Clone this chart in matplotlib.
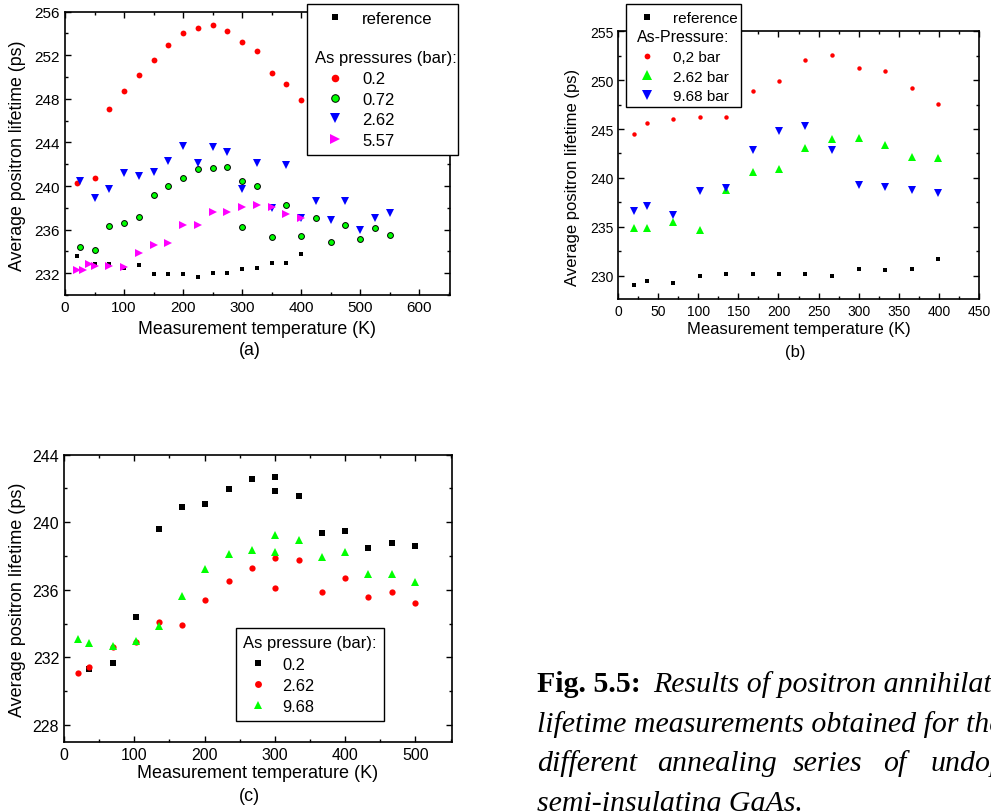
import matplotlib
matplotlib.use("Agg")
import matplotlib.pyplot as plt
from matplotlib.ticker import MultipleLocator, AutoMinorLocator
from matplotlib.lines import Line2D
from matplotlib.patches import Rectangle

plt.rcParams['font.family'] = ['Liberation Sans', 'DejaVu Sans']

W, H = 991, 812

# ---------------- Panel (a) data ----------------
a_ref_T = [20, 50, 75, 100, 125, 150, 175, 200, 225, 250, 275, 300, 325, 350, 375, 400]
a_ref_tau = [233.56, 232.8, 232.8, 232.52, 232.74, 231.94, 231.94, 231.94, 231.66,
             232.06, 232.06, 232.37, 232.49, 232.95, 232.95, 233.74]
a_p02_T = [20, 50, 75, 100, 125, 150, 175, 200, 225, 250, 275, 300, 325, 350, 375, 400]
a_p02_tau = [240.26, 240.74, 247.04, 248.75, 250.16, 251.57, 252.97, 254.04, 254.47,
             254.75, 254.26, 253.25, 252.36, 250.37, 249.37, 247.87]
a_p072_T = [25, 50, 75, 100, 125, 150, 175, 200, 225, 250, 275, 300, 300, 325, 350,
            375, 400, 425, 450, 475, 500, 525, 550]
a_p072_tau = [234.45, 234.17, 236.34, 236.65, 237.14, 239.15, 240.04, 240.74, 241.54,
              241.63, 241.75, 240.47, 236.25, 240.04, 235.33, 238.24, 235.43, 237.05,
              234.84, 236.46, 235.15, 236.13, 235.55]
a_p262_T = [25, 50, 75, 100, 125, 150, 175, 200, 225, 250, 275, 300, 325, 350, 375,
            400, 425, 450, 475, 500, 525, 550]
a_p262_tau = [240.44, 238.91, 239.71, 241.2, 240.93, 241.33, 242.3, 243.65, 242.15,
              243.62, 243.13, 239.74, 242.12, 238.02, 241.94, 237.11, 238.64, 236.92,
              238.64, 235.94, 237.11, 237.53]
a_p557_T = [20, 30, 40, 50, 75, 100, 125, 150, 175, 200, 225, 250, 275, 300, 325, 350,
            375, 400]
a_p557_tau = [232.25, 232.25, 232.86, 232.67, 232.67, 232.55, 233.87, 234.57, 234.78,
              236.46, 236.46, 237.66, 237.66, 238.05, 238.27, 238.05, 237.44, 237.08]

# ---------------- Panel (b) data ----------------
b_T = [20, 36, 69, 102, 135, 168, 201, 233, 267, 300, 333, 367, 399]
b_ref_tau = [229.01, 229.49, 229.22, 230.0, 230.2, 230.2, 230.2, 230.2, 230.0, 230.72,
             230.61, 230.72, 231.71]
b_p02_tau = [244.5, 245.59, 246.0, 246.2, 246.27, 248.9, 249.88, 252.1, 252.58, 251.21,
             250.98, 249.17, 247.56]
b_p262_tau = [234.91, 234.91, 235.53, 234.71, 238.77, 240.61, 240.88, 243.1, 244.02,
              244.09, 243.37, 242.18, 242.07]
b_p968_tau = [236.58, 237.09, 236.21, 238.66, 239.0, 242.89, 244.77, 245.35, 242.89,
              239.24, 239.07, 238.77, 238.49]

# ---------------- Panel (c) data ----------------
c_p02_T = [36, 69, 102, 135, 168, 201, 235, 268, 300, 300, 334, 367, 400, 433, 467, 500]
c_p02_tau = [231.3, 231.69, 234.38, 239.58, 240.88, 241.08, 241.99, 242.58, 242.68,
             241.87, 241.57, 239.38, 239.5, 238.49, 238.79, 238.59]
c_p262_T = [20, 36, 69, 102, 135, 168, 201, 235, 268, 300, 300, 334, 367, 400, 433, 467, 500]
c_p262_tau = [231.08, 231.4, 232.6, 232.9, 234.1, 233.89, 235.39, 236.49, 237.28,
              237.88, 236.08, 237.78, 235.88, 236.69, 235.59, 235.88, 235.19]
c_p968_T = [20, 36, 69, 102, 135, 168, 201, 235, 268, 300, 300, 334, 367, 400, 433, 467, 500]
c_p968_tau = [233.06, 232.84, 232.64, 232.96, 233.83, 235.64, 237.24, 238.13, 238.35,
              239.22, 238.23, 238.94, 237.94, 238.23, 236.93, 236.93, 236.43]

fig = plt.figure(figsize=(W / 100, H / 100), dpi=100)


def fx(px):
    return px / W


def fy(py):
    return 1 - py / H


def make_ax(l, r, t, b):
    ax = fig.add_axes([fx(l), fy(b), fx(r) - fx(l), fy(t) - fy(b)])
    for s in ax.spines.values():
        s.set_linewidth(1.2)
    ax.tick_params(which='both', direction='in', top=True, right=True, width=1.0)
    ax.tick_params(which='major', length=4)
    ax.tick_params(which='minor', length=2.5)
    ax.xaxis.set_minor_locator(AutoMinorLocator(2))
    ax.yaxis.set_minor_locator(AutoMinorLocator(2))
    return ax


RED, GREEN, BLUE, MAG = '#ff0000', '#00ff00', '#0000ff', '#ff00ff'

# ================= Panel (a) =================
axa = make_ax(65, 450, 12.7, 296)
h_ref, = axa.plot(a_ref_T, a_ref_tau, 's', color='black', ms=3.4, mew=0, label='reference')
h1, = axa.plot(a_p02_T, a_p02_tau, 'o', color=RED, ms=4.2, mew=0, label='0.2')
h2, = axa.plot(a_p072_T, a_p072_tau, 'o', mfc=GREEN, mec='black', ms=4.2, mew=0.7, label='0.72')
h3, = axa.plot(a_p262_T, a_p262_tau, 'v', color=BLUE, ms=6, mew=0, label='2.62')
h4, = axa.plot(a_p557_T, a_p557_tau, '>', color=MAG, ms=6, mew=0, label='5.57')
axa.set_xlim(0, 652)
axa.set_ylim(230, 256)
axa.xaxis.set_major_locator(MultipleLocator(100))
axa.yaxis.set_major_locator(MultipleLocator(4))
axa.tick_params(which='major', labelsize=11)

blank = Line2D([], [], linestyle='none')
fig.patches.append(Rectangle((fx(307), fy(156)), fx(458) - fx(307), fy(5) - fy(156),
                             transform=fig.transFigure, facecolor='white',
                             edgecolor='black', linewidth=1.0, zorder=2))
fig.legend(handles=[h_ref, blank, blank, h1, h2, h3, h4],
           labels=['reference', ' ', ' ', '0.2', '0.72', '2.62', '5.57'],
           loc='upper left', bbox_to_anchor=(fx(310), fy(11.5)), bbox_transform=fig.transFigure,
           frameon=False, fontsize=12, borderpad=0, borderaxespad=0,
           handlelength=3.0, handletextpad=0.12, labelspacing=0.32, markerscale=1.3)
fig.text(fx(315), fy(59), 'As pressures (bar):', fontsize=12, ha='left', va='center', zorder=6)

fig.text(fx(18), fy(156), 'Average positron lifetime (ps)', fontsize=12.8, rotation=90,
         ha='center', va='center')
fig.text(fx(257.5), fy(330), 'Measurement temperature (K)', fontsize=12.8, ha='center', va='center')
fig.text(fx(250), fy(351), '(a)', fontsize=12.8, ha='center', va='center')

# ================= Panel (b) =================
axb = make_ax(618, 979, 32.3, 300)
g_ref, = axb.plot(b_T, b_ref_tau, 's', color='black', ms=2.9, mew=0, label='reference')
g1, = axb.plot(b_T, b_p02_tau, 'o', color=RED, ms=3.2, mew=0, label='0,2 bar')
g2, = axb.plot(b_T, b_p262_tau, '^', color=GREEN, ms=5.4, mew=0, label='2.62 bar')
g3, = axb.plot(b_T, b_p968_tau, 'v', color=BLUE, ms=5.4, mew=0, label='9.68 bar')
axb.set_xlim(0, 450)
axb.set_ylim(227.6, 255)
axb.xaxis.set_major_locator(MultipleLocator(50))
axb.yaxis.set_major_locator(MultipleLocator(5))
axb.tick_params(which='major', labelsize=10)

fig.patches.append(Rectangle((fx(626), fy(108)), fx(741) - fx(626), fy(5) - fy(108),
                             transform=fig.transFigure, facecolor='white',
                             edgecolor='black', linewidth=1.0, zorder=2))
fig.legend(handles=[g_ref, blank, g1, g2, g3],
           labels=['reference', ' ', '0,2 bar', '2.62 bar', '9.68 bar'],
           loc='upper left', bbox_to_anchor=(fx(637), fy(12)), bbox_transform=fig.transFigure,
           frameon=False, fontsize=11, borderpad=0, borderaxespad=0,
           handlelength=1.3, handletextpad=1.05, labelspacing=0.36, markerscale=1.3)
fig.text(fx(637), fy(38), 'As-Pressure:', fontsize=11.5, ha='left', va='center', zorder=6)

fig.text(fx(573), fy(177), 'Average positron lifetime (ps)', fontsize=12, rotation=90,
         ha='center', va='center')
fig.text(fx(799), fy(330), 'Measurement temperature (K)', fontsize=12, ha='center', va='center')
fig.text(fx(795.5), fy(352), '(b)', fontsize=12, ha='center', va='center')

# ================= Panel (c) =================
axc = make_ax(64, 452, 455.7, 742.7)
k1, = axc.plot(c_p02_T, c_p02_tau, 's', color='black', ms=4.3, mew=0, label='0.2')
k2, = axc.plot(c_p262_T, c_p262_tau, 'o', color=RED, ms=4.5, mew=0, label='2.62')
k3, = axc.plot(c_p968_T, c_p968_tau, '^', color=GREEN, ms=5.4, mew=0, label='9.68')
axc.set_xlim(0, 552)
axc.set_ylim(227, 244)
axc.xaxis.set_major_locator(MultipleLocator(100))
axc.yaxis.set_major_locator(MultipleLocator(4))
axc.tick_params(which='major', labelsize=11.5)

legc = fig.legend(handles=[k1, k2, k3], labels=['0.2', '2.62', '9.68'],
                  title='As pressure (bar):', title_fontsize=12, alignment='left',
                  loc='upper left', bbox_to_anchor=(fx(236), fy(629)),
                  bbox_transform=fig.transFigure, frameon=True, fancybox=False,
                  edgecolor='black', framealpha=1, fontsize=11.8, borderpad=0.45,
                  borderaxespad=0, handlelength=1.75, handletextpad=0.6,
                  labelspacing=0.38, markerscale=1.1)
legc.get_frame().set_linewidth(1.0)

fig.text(fx(18), fy(600), 'Average positron lifetime (ps)', fontsize=13, rotation=90,
         ha='center', va='center')
fig.text(fx(258), fy(774), 'Measurement temperature (K)', fontsize=13, ha='center', va='center')
fig.text(fx(249), fy(797), '(c)', fontsize=13, ha='center', va='center')

# ================= Caption =================
serif = ['Liberation Serif', 'DejaVu Serif']
cfs = 21.5
fig.text(fx(537), fy(692), 'Fig. 5.5:', family=serif, fontweight='bold', fontsize=cfs,
         ha='left', va='baseline')
fig.text(fx(653), fy(692), 'Results of positron annihilation', family=serif, style='italic',
         fontsize=cfs, ha='left', va='baseline')
fig.text(fx(537), fy(732), 'lifetime measurements obtained for the', family=serif,
         style='italic', fontsize=cfs, ha='left', va='baseline')
for word, xp in [('different', 537), ('annealing', 657), ('series', 793), ('of', 883),
                 ('undoped', 931)]:
    fig.text(fx(xp), fy(771), word, family=serif, style='italic', fontsize=cfs,
             ha='left', va='baseline')
fig.text(fx(537), fy(811), 'semi-insulating GaAs.', family=serif, style='italic',
         fontsize=cfs, ha='left', va='baseline')

fig.savefig('out.png', dpi=100)
